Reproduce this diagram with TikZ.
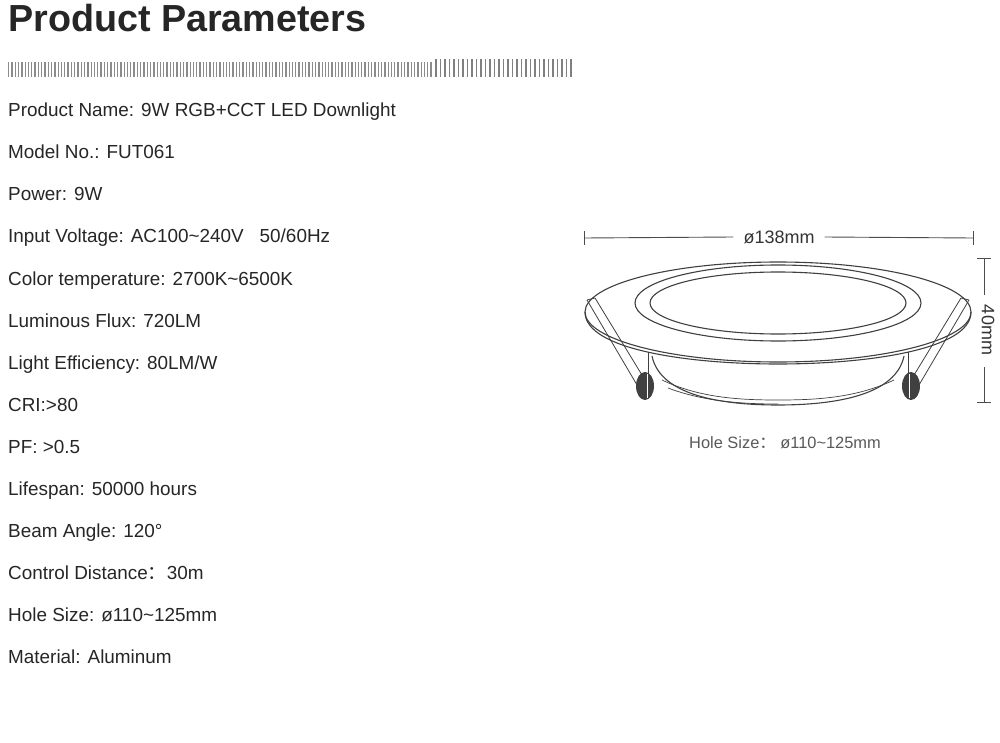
\documentclass[tikz,border=0pt]{standalone}
\usepackage{fontspec}
\setmainfont{Liberation Sans}
\newfontfamily\cjk{Noto Sans CJK SC}
\begin{document}
\begin{tikzpicture}[x=1pt,y=-1pt,
  spec/.style={anchor=base west,inner sep=0pt,font=\fontsize{18.9}{19}\selectfont,text=black!85},
  ln/.style={draw=black!75,line width=1.1pt},
  dim/.style={draw=black!70,line width=0.9pt}]
\useasboundingbox (0,0) rectangle (1000,743);
\node[anchor=base west,inner sep=0pt,font=\fontsize{37.7}{38}\bfseries\selectfont,text=black!85] (title) at (8,32) {Product Parameters};
% bars
\foreach \i in {0,...,128} {\fill[black!45] (8+\i*3.3,62) rectangle ++(1.3,15);}
\foreach \i in {0,...,30} {\fill[black!50] (435+\i*4.5,59) rectangle ++(1.9,18);}
% specs
\foreach \t [count=\k] in {Product Name: 9W RGB+CCT LED Downlight,Model No.: FUT061,Power: 9W,Input Voltage: AC100\textasciitilde240V\hspace{16pt}50/60Hz,Color temperature: 2700K\textasciitilde6500K,Luminous Flux: 720LM,Light Efficiency: 80LM/W,CRI:>80,PF: >0.5,Lifespan: 50000 hours,Beam Angle: 120°,Control Distance{\cjk ：}30m,Hole Size: ø110\textasciitilde125mm,Material: Aluminum}
  {\node[spec] (s\k) at (8,117+\k*42-42) {\t};}
% dimension top
\coordinate (dl) at (584,238); \coordinate (dr) at (973,238);
\node[font=\fontsize{18}{18}\selectfont,text=black!80,inner xsep=10pt] (d1) at (779,237) {ø138mm};
\draw[dim] (dl) -- (d1.west) (d1.east) -- (dr);
\draw[dim] (584,231) -- (584,245) (973,231) -- (973,245);
% dimension right
\coordinate (vt) at (984,258); \coordinate (vb) at (984,402);
\node[font=\fontsize{18}{18}\selectfont,text=black!80,rotate=-90] (d2) at (988,330) {40mm};
\draw[dim] (vt) -- (984,295) (984,367) -- (vb);
\draw[dim] (977,258) -- (991,258) (977,402) -- (991,402);
% lamp body
\draw[ln] (652,356) .. controls (660,395) and (720,405) .. (778,405) .. controls (836,405) and (896,395) .. (904,356);
\draw[ln,line width=0.7pt] (662,380) .. controls (700,398) and (740,400) .. (778,400) .. controls (816,400) and (856,398) .. (894,380);
\draw[ln,line width=0.7pt] (668,388) .. controls (705,402) and (745,404) .. (778,404);
% rim
\draw[ln,fill=white] (778,312) ellipse [x radius=193,y radius=50];
\draw[ln] (585,312) .. controls (585,350) and (690,364) .. (778,364) .. controls (866,364) and (971,350) .. (971,312);
\draw[ln] (778,303) ellipse [x radius=143,y radius=38];
\draw[ln] (778,303) ellipse [x radius=128,y radius=31];
% clips
\foreach \s/\cx in {1/645,-1/911}{
  \draw[ln,line width=0.8pt] (\cx-\s*58,300) -- (\cx-\s*8,385);
  \draw[ln,line width=0.8pt] (\cx-\s*50,298) -- (\cx,380);
  \draw[ln,line width=0.8pt] (\cx-\s*58,300) -- (\cx-\s*50,298);
  \draw[ln,line width=0.8pt] (\cx+\s*3,352) -- (\cx+\s*3,378);
  \fill[black!75] (\cx,386) ellipse [x radius=9,y radius=14];
  \draw[white,line width=0.6pt] (\cx+\s*2,374) -- (\cx+\s*2,398);
}
\node[font=\fontsize{16.4}{16}\selectfont,text=black!65] (hole) at (785,443) {Hole Size{\cjk ：}\ ø110\textasciitilde125mm};
\end{tikzpicture}
\end{document}
